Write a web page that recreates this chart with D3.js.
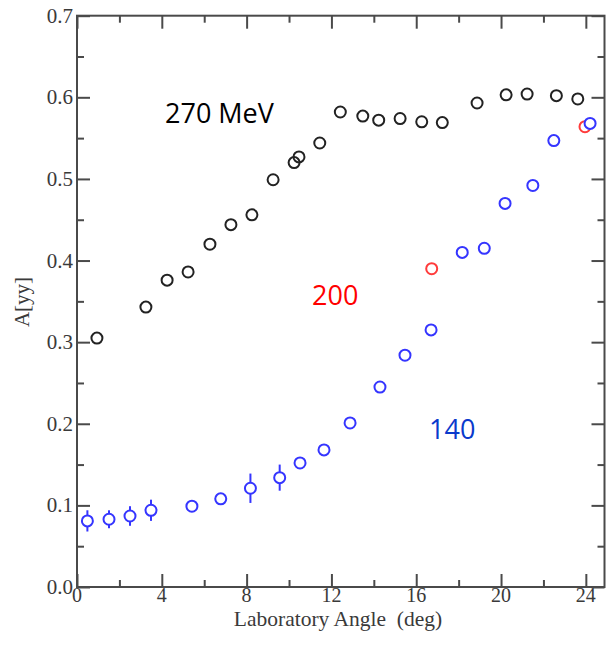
<!DOCTYPE html>
<html>
<head>
<meta charset="utf-8">
<script src="https://cdn.jsdelivr.net/npm/d3@7"></script>
<style>
	body { margin: 0; background: #ffffff; }
	svg { display: block; }
	.tick-label { font-family: 'Liberation Serif', 'DejaVu Serif', serif; fill: #3a3a3a; }
	.note { font-family: 'Open Sans', 'Noto Sans', sans-serif; }
</style>
</head>
<body>
<div id="chart"></div>
<script>

// 270 MeV (black)
let angle270 = [0.94, 3.25, 4.25, 5.24, 6.27, 7.26, 8.25, 9.25, 10.24, 10.47, 11.45, 12.42, 13.48, 14.23, 15.24, 16.26, 17.23, 18.87, 20.24, 21.23, 22.61, 23.62];
let ayy270 = [0.305, 0.343, 0.376, 0.386, 0.420, 0.444, 0.456, 0.499, 0.520, 0.527, 0.544, 0.582, 0.577, 0.572, 0.574, 0.570, 0.569, 0.593, 0.603, 0.604, 0.602, 0.598];

// 200 MeV (red)
let angle200 = [16.73, 23.96];
let ayy200 = [0.390, 0.564];

// 140 MeV (blue) with error bars
let angle140 = [0.49, 1.51, 2.50, 3.49, 5.42, 6.78, 8.18, 9.56, 10.52, 11.65, 12.88, 14.29, 15.47, 16.70, 18.17, 19.21, 20.19, 21.50, 22.49, 24.20];
let ayy140 = [0.081, 0.083, 0.087, 0.094, 0.099, 0.108, 0.121, 0.134, 0.152, 0.168, 0.201, 0.245, 0.284, 0.315, 0.410, 0.415, 0.470, 0.492, 0.547, 0.568];
let err140 = [0.013, 0.011, 0.012, 0.013, 0.005, 0.005, 0.018, 0.016, 0.005, 0.005, 0.005, 0.005, 0.005, 0.005, 0.005, 0.005, 0.005, 0.005, 0.005, 0.005];

let xTicks = [0, 4, 8, 12, 16, 20, 24];
let xMinor = [2, 6, 10, 14, 18, 22];
let yTicks = [0.0, 0.1, 0.2, 0.3, 0.4, 0.5, 0.6, 0.7];
let yMinor = [0.05, 0.15, 0.25, 0.35, 0.45, 0.55, 0.65];

let width = 606;
let height = 647;

let pLeft = 77, pRight = 604.5, pTop = 15.7, pBottom = 587;

let x = d3.scaleLinear()
	.domain([0, 24.88])
	.range([pLeft, pRight]);

let y = d3.scaleLinear()
	.domain([0, 0.7])
	.range([pBottom, pTop]);

let svg = d3.select('#chart').append('svg')
	.attr('width', width)
	.attr('height', height);

let frameColor = '#4a4a4a';

// frame
svg.append('rect')
	.attr('x', pLeft)
	.attr('y', pTop)
	.attr('width', pRight - pLeft)
	.attr('height', pBottom - pTop)
	.attr('fill', 'none')
	.attr('stroke', frameColor)
	.attr('stroke-width', 2)
;

let majorLen = 13, minorLen = 7;

// inward ticks on all four sides
let axes = [
	{ axis: d3.axisBottom(x), pos: `translate(0, ${pBottom})`, maj: xTicks, min: xMinor },
	{ axis: d3.axisTop(x), pos: `translate(0, ${pTop})`, maj: xTicks, min: xMinor },
	{ axis: d3.axisLeft(y), pos: `translate(${pLeft}, 0)`, maj: yTicks, min: yMinor },
	{ axis: d3.axisRight(y), pos: `translate(${pRight}, 0)`, maj: yTicks, min: yMinor }
];

for(let i = 0; i < axes.length; i++)
{
	let a = axes[i];

	let major = svg.append('g')
		.attr('transform', a.pos)
		.call(a.axis.tickValues(a.maj).tickSize(-majorLen).tickFormat(''));

	let minor = svg.append('g')
		.attr('transform', a.pos)
		.call(a.axis.tickValues(a.min).tickSize(-minorLen).tickFormat(''));

	for(let g of [major, minor])
	{
		g.select('.domain').remove();
		g.selectAll('line')
			.attr('stroke', frameColor)
			.attr('stroke-width', 2);
	}
}

// tick labels
svg.append('g').selectAll('text')
	.data(xTicks)
	.enter()
	.append('text')
	.attr('class', 'tick-label')
	.attr('x', d => x(d))
	.attr('y', 602)
	.attr('text-anchor', 'middle')
	.style('font-size', '20px')
	.text(d => d)
;

svg.append('g').selectAll('text')
	.data(yTicks)
	.enter()
	.append('text')
	.attr('class', 'tick-label')
	.attr('x', pLeft - 4)
	.attr('y', d => y(d) + 7)
	.attr('text-anchor', 'end')
	.style('font-size', '21px')
	.text(d => d.toFixed(1))
;

// axis titles
svg.append('text')
	.attr('class', 'tick-label')
	.attr('x', 338)
	.attr('y', 626)
	.attr('text-anchor', 'middle')
	.style('font-size', '21.5px')
	.style('white-space', 'pre')
	.text('Laboratory Angle  (deg)')
;

svg.append('text')
	.attr('class', 'tick-label')
	.attr('transform', 'translate(29, 302) rotate(-90)')
	.attr('text-anchor', 'middle')
	.style('font-size', '21px')
	.text('A[yy]')
;

let r = 5.5;

// 270 MeV
svg.append('g').selectAll('circle')
	.data(angle270)
	.enter()
	.append('circle')
	.attr('cx', d => x(d))
	.attr('cy', (d,i) => y(ayy270[i]))
	.attr('r', r)
	.attr('fill', 'none')
	.attr('stroke', '#222222')
	.attr('stroke-width', 2)
;

// 200 MeV
svg.append('g').selectAll('circle')
	.data(angle200)
	.enter()
	.append('circle')
	.attr('cx', d => x(d))
	.attr('cy', (d,i) => y(ayy200[i]))
	.attr('r', r)
	.attr('fill', 'none')
	.attr('stroke', '#ff3b3b')
	.attr('stroke-width', 2)
;

// 140 MeV error bars then circles
let blue = '#3535ff';

svg.append('g').selectAll('line')
	.data(angle140)
	.enter()
	.append('line')
	.attr('x1', d => x(d))
	.attr('x2', d => x(d))
	.attr('y1', (d,i) => y(ayy140[i] - err140[i]))
	.attr('y2', (d,i) => y(ayy140[i] + err140[i]))
	.attr('stroke', blue)
	.attr('stroke-width', 2)
;

svg.append('g').selectAll('circle')
	.data(angle140)
	.enter()
	.append('circle')
	.attr('cx', d => x(d))
	.attr('cy', (d,i) => y(ayy140[i]))
	.attr('r', r)
	.attr('fill', '#ffffff')
	.attr('stroke', blue)
	.attr('stroke-width', 2)
;

// energy labels
svg.append('text')
	.attr('class', 'note')
	.attr('x', 165)
	.attr('y', 123)
	.style('font-size', '27px')
	.attr('fill', '#000000')
	.text('270 MeV')
;

svg.append('text')
	.attr('class', 'note')
	.attr('x', 312)
	.attr('y', 305)
	.style('font-size', '27px')
	.attr('fill', '#ff0000')
	.text('200')
;

svg.append('text')
	.attr('class', 'note')
	.attr('x', 429)
	.attr('y', 439)
	.style('font-size', '27px')
	.attr('fill', '#0a3acc')
	.text('140')
;

</script>
</body>
</html>
